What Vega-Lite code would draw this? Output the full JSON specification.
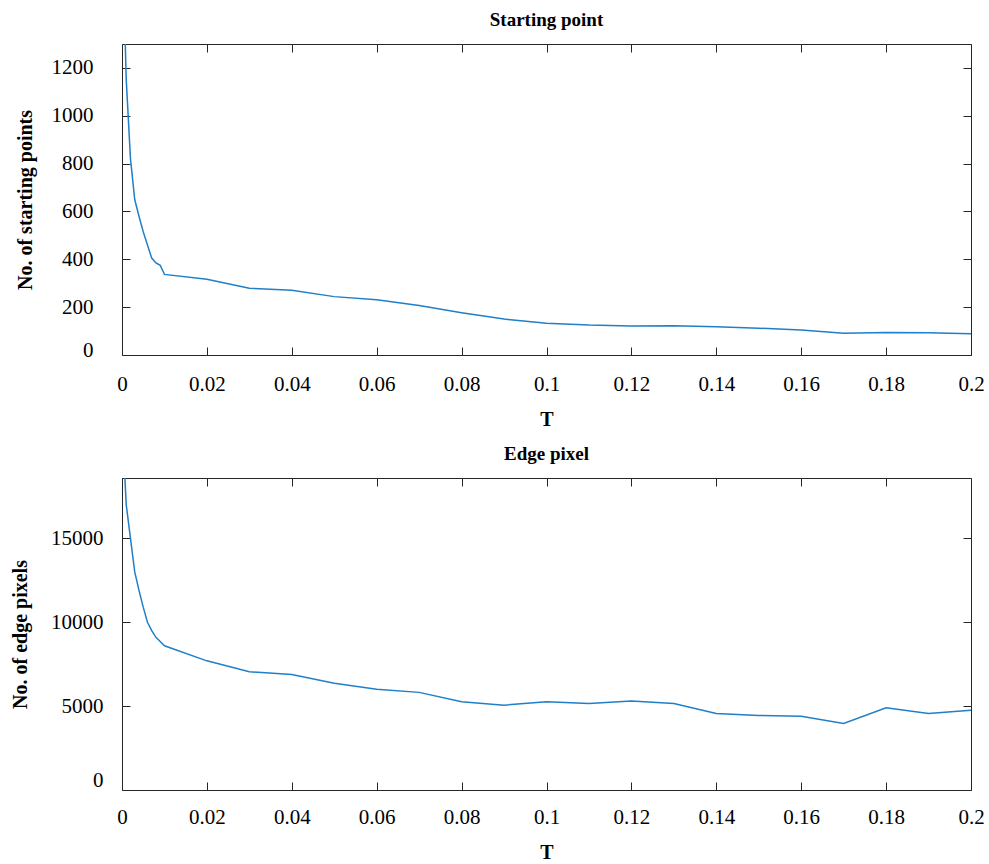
{
  "$schema": "https://vega.github.io/schema/vega-lite/v6.json",
  "padding": {"left": 10, "top": 10, "right": 5, "bottom": 5},
  "background": "white",
  "spacing": 14,
  "config": {
    "font": "Liberation Serif",
    "view": {"stroke": "#262626", "strokeWidth": 1},
    "axis": {
      "grid": false,
      "domain": false,
      "tickColor": "#262626",
      "tickSize": 8,
      "tickWidth": 1,
      "offset": -8,
      "labelFont": "Liberation Serif",
      "labelFontSize": 21,
      "labelColor": "#000000",
      "titleFont": "Liberation Serif",
      "titleFontSize": 20,
      "titleFontWeight": "bold",
      "titleColor": "#000000"
    },
    "title": {"font": "Liberation Serif", "fontSize": 19, "fontWeight": "bold", "color": "#000000", "offset": 14}
  },
  "datasets": {
    "sp": [
      {"T": 0, "n": 1800}, {"T": 0.001, "n": 1150}, {"T": 0.002, "n": 820}, {"T": 0.003, "n": 650},
      {"T": 0.004, "n": 580}, {"T": 0.005, "n": 515}, {"T": 0.006, "n": 460}, {"T": 0.007, "n": 405},
      {"T": 0.008, "n": 385}, {"T": 0.009, "n": 375}, {"T": 0.01, "n": 337}, {"T": 0.02, "n": 317},
      {"T": 0.03, "n": 279}, {"T": 0.04, "n": 271}, {"T": 0.05, "n": 244}, {"T": 0.06, "n": 231},
      {"T": 0.07, "n": 207}, {"T": 0.08, "n": 177}, {"T": 0.09, "n": 150}, {"T": 0.1, "n": 133},
      {"T": 0.11, "n": 125}, {"T": 0.12, "n": 121}, {"T": 0.13, "n": 122}, {"T": 0.14, "n": 118},
      {"T": 0.15, "n": 112}, {"T": 0.16, "n": 105}, {"T": 0.17, "n": 91}, {"T": 0.18, "n": 94},
      {"T": 0.19, "n": 93}, {"T": 0.2, "n": 89}
    ],
    "ep": [
      {"T": 0, "n": 22000}, {"T": 0.001, "n": 17000}, {"T": 0.002, "n": 15000}, {"T": 0.003, "n": 13000},
      {"T": 0.004, "n": 11900}, {"T": 0.005, "n": 10900}, {"T": 0.006, "n": 10000}, {"T": 0.007, "n": 9500},
      {"T": 0.008, "n": 9100}, {"T": 0.009, "n": 8850}, {"T": 0.01, "n": 8600}, {"T": 0.02, "n": 7700},
      {"T": 0.03, "n": 7050}, {"T": 0.04, "n": 6880}, {"T": 0.05, "n": 6360}, {"T": 0.06, "n": 6000},
      {"T": 0.07, "n": 5820}, {"T": 0.08, "n": 5260}, {"T": 0.09, "n": 5060}, {"T": 0.1, "n": 5260},
      {"T": 0.11, "n": 5160}, {"T": 0.12, "n": 5300}, {"T": 0.13, "n": 5160}, {"T": 0.14, "n": 4560},
      {"T": 0.15, "n": 4440}, {"T": 0.16, "n": 4400}, {"T": 0.17, "n": 3960}, {"T": 0.18, "n": 4900},
      {"T": 0.19, "n": 4560}, {"T": 0.2, "n": 4760}
    ]
  },
  "vconcat": [
    {
      "title": {"text": "Starting point"},
      "width": 849,
      "height": 311,
      "data": {"name": "sp"},
      "layer": [
        {
          "mark": {"type": "line", "color": "#1f7fc8", "strokeWidth": 1.5, "clip": true},
          "encoding": {
            "x": {"field": "T", "type": "quantitative", "scale": {"domain": [0, 0.2], "nice": false},
                  "axis": {"values": [0, 0.02, 0.04, 0.06, 0.08, 0.1, 0.12, 0.14, 0.16, 0.18, 0.2], "format": "~g", "title": "T", "labelFlush": false, "labelPadding": 18, "titlePadding": 15}},
            "y": {"field": "n", "type": "quantitative", "scale": {"domain": [0, 1300], "nice": false},
                  "axis": {"values": [0, 200, 400, 600, 800, 1000, 1200], "format": "d", "title": "No. of starting points", "labelFlush": true, "labelFlushOffset": 5, "labelPadding": 29, "titlePadding": 16}}
          }
        },
        {
          "mark": {"type": "line", "opacity": 0, "clip": true},
          "encoding": {
            "x": {"field": "T", "type": "quantitative", "axis": {"orient": "top", "labels": false, "title": null, "values": [0, 0.02, 0.04, 0.06, 0.08, 0.1, 0.12, 0.14, 0.16, 0.18, 0.2]}},
            "y": {"field": "n", "type": "quantitative", "axis": {"orient": "right", "labels": false, "title": null, "values": [0, 200, 400, 600, 800, 1000, 1200]}}
          }
        }
      ],
      "resolve": {"axis": {"x": "independent", "y": "independent"}}
    },
    {
      "title": {"text": "Edge pixel"},
      "width": 849,
      "height": 312,
      "data": {"name": "ep"},
      "layer": [
        {
          "mark": {"type": "line", "color": "#1f7fc8", "strokeWidth": 1.5, "clip": true},
          "encoding": {
            "x": {"field": "T", "type": "quantitative", "scale": {"domain": [0, 0.2], "nice": false},
                  "axis": {"values": [0, 0.02, 0.04, 0.06, 0.08, 0.1, 0.12, 0.14, 0.16, 0.18, 0.2], "format": "~g", "title": "T", "labelFlush": false, "labelPadding": 16, "titlePadding": 15}},
            "y": {"field": "n", "type": "quantitative", "scale": {"domain": [0, 18600], "nice": false},
                  "axis": {"values": [0, 5000, 10000, 15000], "format": "d", "title": "No. of edge pixels", "labelFlush": true, "labelPadding": 19, "titlePadding": 20}}
          }
        },
        {
          "mark": {"type": "line", "opacity": 0, "clip": true},
          "encoding": {
            "x": {"field": "T", "type": "quantitative", "axis": {"orient": "top", "labels": false, "title": null, "values": [0, 0.02, 0.04, 0.06, 0.08, 0.1, 0.12, 0.14, 0.16, 0.18, 0.2]}},
            "y": {"field": "n", "type": "quantitative", "axis": {"orient": "right", "labels": false, "title": null, "values": [0, 5000, 10000, 15000]}}
          }
        }
      ],
      "resolve": {"axis": {"x": "independent", "y": "independent"}}
    }
  ]
}
